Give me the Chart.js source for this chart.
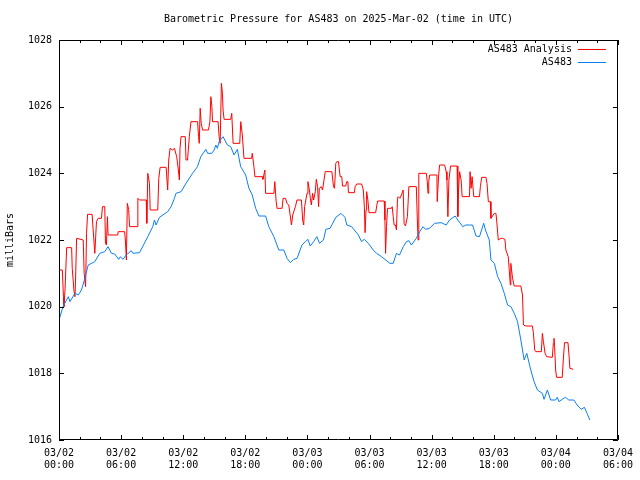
<!DOCTYPE html>
<html>
<head>
<meta charset="utf-8">
<script src="https://cdn.jsdelivr.net/npm/chart.js@4.4.1/dist/chart.umd.min.js"></script>
<style>
  html, body { margin: 0; padding: 0; background: #fff; }
  #wrap { width: 640px; height: 480px; position: relative; }
</style>
</head>
<body>
<div id="wrap"><canvas id="c" width="640" height="480"></canvas></div>
<script>
// ---- Data (x = hours since 2025-03-02 00:00 UTC) ----
const seriesLabels = ['AS483 Analysis', 'AS483'];

const redHours = [0,0.32,0.43,0.48,0.58,0.74,1.22,1.28,1.44,1.54,1.60,1.70,2.34,2.43,2.57,2.66,2.76,3.20,3.30,3.46,3.62,3.78,4.10,4.20,4.42,4.49,4.58,4.68,4.74,5.67,5.72,6.34,6.41,6.51,6.60,6.73,6.82,7.56,7.62,7.78,8.43,8.48,8.58,8.74,8.81,9.54,9.64,9.77,10.35,10.50,10.60,10.73,10.98,11.15,11.37,11.53,11.63,11.69,11.79,12.20,12.27,12.42,12.59,12.75,13.39,13.48,13.55,13.64,13.74,13.87,14.44,14.58,14.67,14.77,14.83,15.37,15.47,15.57,15.69,15.79,15.85,15.95,16.59,16.69,16.82,17.46,17.56,17.71,17.87,18.61,18.67,18.83,18.93,19.63,19.70,19.89,19.96,20.76,20.85,20.98,21.07,21.55,21.65,21.88,22.03,22.20,22.46,22.58,22.84,22.99,23.42,23.54,23.64,23.73,23.96,24.05,24.19,24.28,24.38,24.50,24.60,24.76,24.86,24.98,25.08,25.15,25.34,25.46,25.72,26.36,26.52,26.62,26.74,26.84,27.00,27.16,27.32,27.39,27.70,27.80,27.91,27.96,28.54,28.61,28.76,29.24,29.40,29.50,29.57,29.66,29.72,29.84,29.95,30.59,30.78,31.42,31.49,31.55,31.64,31.74,32.12,32.19,32.29,32.38,32.51,32.60,32.70,32.77,32.93,33.08,33.25,33.34,33.47,33.66,33.80,34.52,34.62,34.69,34.76,35.49,35.58,35.65,35.72,35.81,36.51,36.54,36.68,36.77,37.25,37.41,37.48,37.57,37.67,37.83,38.46,38.53,38.60,38.70,38.85,38.95,39.66,39.71,39.81,39.91,40.07,40.62,40.71,40.84,41.25,41.35,41.48,41.67,41.73,42.06,42.21,42.28,42.44,42.69,42.85,43.08,43.17,43.40,43.50,43.60,43.65,43.82,43.98,44.62,44.78,44.87,45.10,45.74,45.83,45.96,46.06,46.60,46.70,46.80,46.96,47.11,47.66,47.76,47.82,47.88,47.98,48.07,48.62,48.72,48.84,49.17,49.27,49.36,49.68];
const redValues = [1021.1,1021.1,1020.3,1020.0,1020.5,1021.77,1021.77,1021.15,1020.5,1020.3,1020.8,1022.05,1022.0,1021.0,1020.6,1022.2,1022.77,1022.77,1022.3,1021.6,1022.55,1022.65,1022.65,1023.0,1023.0,1021.9,1021.85,1022.7,1022.15,1022.15,1022.25,1022.25,1022.0,1021.4,1023.1,1022.92,1022.4,1022.4,1023.25,1023.2,1023.2,1022.5,1024.0,1023.7,1022.9,1022.9,1023.85,1024.18,1024.18,1023.5,1024.4,1024.75,1024.7,1024.75,1024.5,1024.1,1023.8,1024.75,1025.1,1025.1,1024.4,1024.4,1025.1,1025.55,1025.55,1025.1,1024.9,1025.95,1025.5,1025.3,1025.3,1025.55,1026.3,1026.0,1025.55,1025.55,1025.1,1024.9,1026.7,1026.4,1025.9,1025.62,1025.62,1025.8,1024.9,1024.9,1025.55,1025.15,1024.45,1024.45,1024.6,1024.2,1023.9,1023.9,1023.82,1024.1,1023.4,1023.4,1023.75,1023.15,1022.95,1022.95,1023.25,1023.25,1023.1,1023.05,1022.45,1022.75,1023.0,1023.2,1023.2,1022.6,1022.45,1023.0,1023.4,1023.75,1023.5,1023.25,1023.05,1023.4,1023.2,1023.45,1023.82,1023.6,1023.0,1023.55,1023.6,1023.5,1024.05,1024.05,1023.6,1023.55,1024.3,1024.35,1024.35,1023.9,1023.9,1023.62,1023.62,1023.75,1023.75,1023.42,1023.42,1023.6,1023.68,1023.68,1023.5,1023.0,1022.22,1022.9,1023.45,1023.2,1022.82,1022.82,1023.17,1023.17,1022.6,1021.6,1022.4,1022.95,1022.95,1023.0,1022.7,1022.45,1022.45,1022.3,1023.25,1023.3,1023.25,1023.35,1023.5,1022.5,1022.42,1022.7,1023.6,1023.6,1022.6,1022.0,1024.0,1024.0,1023.75,1023.4,1023.75,1023.95,1023.95,1023.15,1023.95,1024.25,1024.25,1024.05,1023.8,1022.7,1023.8,1024.22,1024.22,1022.7,1023.5,1024.05,1023.8,1023.3,1023.3,1024.05,1023.55,1023.9,1023.3,1023.3,1023.6,1023.88,1023.88,1023.7,1023.15,1023.15,1022.65,1022.8,1022.8,1022.6,1022.0,1022.05,1022.05,1022.02,1021.7,1021.5,1021.1,1020.65,1021.3,1020.85,1020.62,1020.62,1020.35,1019.45,1019.42,1019.42,1019.22,1018.7,1018.65,1018.65,1019.2,1018.95,1018.6,1018.5,1018.48,1018.9,1019.05,1018.8,1018.1,1017.88,1017.88,1018.4,1018.92,1018.92,1018.55,1018.15,1018.12];

const blueHours = [0,0.41,0.9,1.06,1.54,1.86,2.17,2.5,2.82,3.46,3.94,4.42,4.74,5.06,5.38,5.77,5.93,6.18,6.5,6.98,7.14,7.78,8.58,9.06,9.22,9.38,9.7,10.5,10.83,11.15,11.3,11.8,12.27,12.9,13.38,13.7,14.19,14.35,14.76,14.99,15.15,15.3,15.47,15.85,16.27,16.59,16.91,17.23,17.55,18.03,18.35,18.67,19.0,19.31,19.96,20.27,20.76,21.24,21.72,22.03,22.36,22.68,23.0,23.47,23.8,24.05,24.27,24.6,24.91,25.17,25.55,25.78,26.19,26.74,27.25,27.63,27.8,28.27,28.92,29.23,29.49,29.88,30.36,30.68,31.16,31.97,32.29,32.6,32.9,33.26,33.57,33.8,34.04,34.52,34.85,35.17,35.4,35.8,36.28,36.92,37.4,37.73,38.27,38.53,39.01,39.3,39.66,39.95,40.29,40.62,41.03,41.2,41.57,41.73,42.06,42.38,42.7,43.02,43.34,43.66,43.98,44.3,44.62,44.94,45.19,45.58,45.9,46.22,46.7,46.86,47.18,47.5,47.98,48.14,48.3,48.62,48.94,49.25,49.73,50.06,50.44,50.76,51.02,51.28];
const blueValues = [1019.6,1020.02,1020.3,1020.15,1020.4,1020.35,1020.5,1020.85,1021.25,1021.35,1021.6,1021.65,1021.8,1021.6,1021.58,1021.42,1021.5,1021.42,1021.55,1021.68,1021.6,1021.62,1022.1,1022.4,1022.6,1022.45,1022.68,1022.85,1023.0,1023.25,1023.4,1023.45,1023.7,1024.0,1024.2,1024.5,1024.72,1024.6,1024.6,1024.7,1024.85,1024.75,1024.95,1025.1,1024.85,1024.8,1024.55,1024.72,1024.2,1023.95,1023.55,1023.35,1022.95,1022.72,1022.72,1022.4,1022.1,1021.7,1021.7,1021.45,1021.32,1021.42,1021.45,1021.85,1021.95,1022.02,1021.82,1021.95,1022.1,1021.9,1022.0,1022.32,1022.35,1022.68,1022.8,1022.68,1022.45,1022.4,1022.15,1021.95,1022.02,1021.9,1021.7,1021.6,1021.5,1021.3,1021.3,1021.6,1021.55,1021.8,1021.95,1021.98,1021.85,1022.05,1022.25,1022.4,1022.32,1022.35,1022.5,1022.52,1022.45,1022.6,1022.72,1022.6,1022.4,1022.45,1022.45,1022.45,1022.12,1022.1,1022.5,1022.3,1022.0,1021.4,1021.3,1020.9,1020.7,1020.4,1020.05,1020.0,1019.8,1019.55,1019.0,1018.4,1018.6,1018.1,1017.75,1017.5,1017.4,1017.22,1017.5,1017.2,1017.2,1017.28,1017.15,1017.22,1017.28,1017.2,1017.2,1017.05,1016.92,1016.98,1016.8,1016.6];

const xTickDates = ['03/02','03/02','03/02','03/02','03/03','03/03','03/03','03/03','03/04','03/04'];
const xTickTimes = ['00:00','06:00','12:00','18:00','00:00','06:00','12:00','18:00','00:00','06:00'];
const yTicks = [1016, 1018, 1020, 1022, 1024, 1026, 1028];

const FONT = "'DejaVu Sans Mono', 'Liberation Mono', monospace";
Chart.defaults.font.family = FONT;
Chart.defaults.font.size = 10;
Chart.defaults.color = '#000';

const toPts = (xs, ys) => xs.map((x, i) => ({ x: x, y: ys[i] }));

// Frame + inward ticks (gnuplot style) and legend
const framePlugin = {
  id: 'frame',
  afterDatasetsDraw(chart) {
    const { ctx, chartArea: a, scales } = chart;
    const xs = scales.x, ys = scales.y;
    ctx.save();
    ctx.strokeStyle = '#000';
    ctx.lineWidth = 1;
    ctx.beginPath();
    ctx.rect(Math.round(a.left) + 0.5, Math.round(a.top) + 0.5,
             Math.round(a.right - a.left) - 1, Math.round(a.bottom - a.top) - 1);
    xs.ticks.forEach(t => {
      const px = Math.round(xs.getPixelForValue(t.value)) + 0.5;
      const len = (t.value % 6 === 0) ? 5 : 3;
      ctx.moveTo(px, a.bottom); ctx.lineTo(px, a.bottom - len);
      ctx.moveTo(px, a.top); ctx.lineTo(px, a.top + len);
    });
    ys.ticks.forEach(t => {
      const py = Math.round(ys.getPixelForValue(t.value)) + 0.5;
      ctx.moveTo(a.left, py); ctx.lineTo(a.left + 5, py);
      ctx.moveTo(a.right, py); ctx.lineTo(a.right - 5, py);
    });
    ctx.stroke();

    ctx.font = '10px ' + FONT;
    ctx.textAlign = 'right';
    ctx.textBaseline = 'middle';
    ctx.fillStyle = '#000';
    [0, 1].forEach((di, row) => {
      const ds = chart.data.datasets[di];
      const y = Math.round(a.top + 9 + row * 13) + 0.5;
      ctx.fillText(ds.label, a.right - 46, y);
      ctx.beginPath();
      ctx.strokeStyle = ds.borderColor;
      ctx.moveTo(a.right - 40, y); ctx.lineTo(a.right - 12, y);
      ctx.stroke();
    });
    ctx.restore();
  }
};

new Chart(document.getElementById('c'), {
  type: 'line',
  data: {
    datasets: [
      { label: seriesLabels[0], data: toPts(redHours, redValues), borderColor: '#ff0000',
        borderWidth: 1, pointRadius: 0, tension: 0, fill: false, order: 1 },
      { label: seriesLabels[1], data: toPts(blueHours, blueValues), borderColor: '#0a7ff0',
        borderWidth: 1, pointRadius: 0, tension: 0, fill: false, order: 0 }
    ]
  },
  options: {
    responsive: false,
    animation: false,
    events: [],
    layout: { padding: { top: 0, right: 19, left: 0, bottom: 0 } },
    plugins: {
      legend: { display: false },
      tooltip: { enabled: false },
      title: {
        display: true,
        fullSize: false,
        text: 'Barometric Pressure for AS483 on 2025-Mar-02 (time in UTC)',
        font: { size: 10, weight: 'normal', family: FONT },
        color: '#000',
        padding: { top: 13, bottom: 15 }
      }
    },
    scales: {
      x: {
        type: 'linear',
        min: 0, max: 54,
        grid: { display: false, drawTicks: false },
        border: { display: false },
        ticks: {
          stepSize: 2,
          autoSkip: false,
          maxRotation: 0,
          padding: 7,
          callback: (v) => {
            if (v % 6 !== 0) return '';
            const i = v / 6;
            return [xTickDates[i], xTickTimes[i]];
          }
        },
        afterFit: (s) => { s.height = 40; }
      },
      y: {
        type: 'linear',
        min: yTicks[0], max: yTicks[yTicks.length - 1],
        grid: { display: false, drawTicks: false },
        border: { display: false },
        ticks: { stepSize: 2, padding: 7, callback: (v) => yTicks.includes(v) ? String(v) : '' },
        title: { display: true, text: 'milliBars', padding: { top: 4, bottom: 0 }, font: { size: 10, family: FONT } },
        afterFit: (s) => { s.width = 59; }
      }
    }
  },
  plugins: [framePlugin]
});
</script>
</body>
</html>
